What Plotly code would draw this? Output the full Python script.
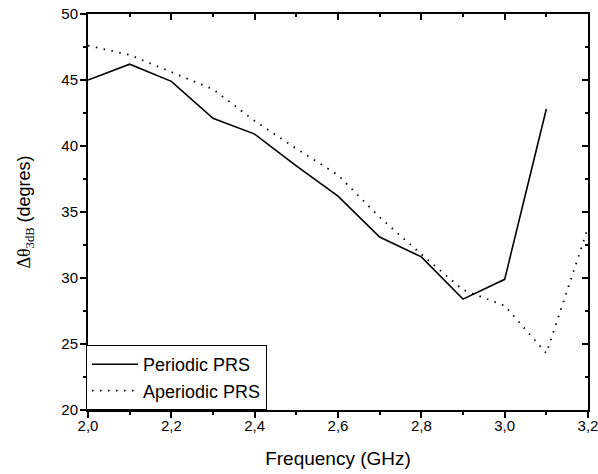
import plotly.graph_objects as go

freq = [2.0, 2.1, 2.2, 2.3, 2.4, 2.5, 2.6, 2.7, 2.8, 2.9, 3.0, 3.1]
periodic = [45.0, 46.2, 44.9, 42.1, 40.9, 38.5, 36.2, 33.1, 31.6, 28.4, 29.9, 42.8]
freq_ap = [2.0, 2.1, 2.2, 2.3, 2.4, 2.5, 2.6, 2.7, 2.8, 2.9, 3.0, 3.1, 3.2]
aperiodic = [47.6, 46.9, 45.6, 44.3, 41.9, 39.8, 37.8, 34.6, 31.8, 29.1, 27.9, 24.3, 33.8]

font = "Liberation Sans, Arial, sans-serif"
serif = "Liberation Serif, Times New Roman, serif"

fig = go.Figure()
fig.add_trace(go.Scatter(x=freq, y=periodic, mode="lines", name="Periodic PRS",
                         line=dict(color="black", width=1.6)))
fig.add_trace(go.Scatter(x=freq_ap, y=aperiodic, mode="lines", name="Aperiodic PRS",
                         line=dict(color="black", width=1.8, dash="1.5px,6.5px")))
# invisible trace to activate mirrored axes
fig.add_trace(go.Scatter(x=[2.0], y=[20], xaxis="x2", yaxis="y2", mode="markers",
                         marker=dict(opacity=0), showlegend=False, hoverinfo="skip"))

axis_common = dict(showgrid=False, zeroline=False, showline=True, linecolor="black",
                   linewidth=2, tickcolor="black", tickwidth=1.5, automargin=False)

ytitle = (f"<span style='font-family:{serif}'>Δθ<sub>3dB</sub></span> (degres)")

fig.update_layout(
    width=598, height=474,
    margin=dict(l=88, r=10, t=14, b=64),
    paper_bgcolor="white", plot_bgcolor="white",
    separators=",.",
    font=dict(family=font, color="black", size=15),
    xaxis=dict(range=[2.0, 3.2], dtick=0.2, tickformat=".1f", ticks="outside", ticklen=6,
               minor=dict(ticks="outside", ticklen=3, dtick=0.1, tickcolor="black", tickwidth=1.5),
               title=dict(text="Frequency (GHz)", font=dict(size=19), standoff=19),
               tickfont=dict(size=15), ticklabelstandoff=-5, ticklabeloverflow="allow",
               **axis_common),
    yaxis=dict(range=[20, 50], dtick=5, ticks="outside", ticklen=6,
               minor=dict(ticks="outside", ticklen=3, dtick=2.5, tickcolor="black", tickwidth=1.5),
               title=dict(text=ytitle, font=dict(size=18), standoff=26),
               tickfont=dict(size=15), ticklabelstandoff=-1, ticklabeloverflow="allow",
               **axis_common),
    xaxis2=dict(range=[2.0, 3.2], overlaying="x", side="top", dtick=0.2, ticks="inside", ticklen=6,
                showticklabels=False,
                minor=dict(ticks="inside", ticklen=3, dtick=0.1, tickcolor="black", tickwidth=1.5),
                anchor="y", **axis_common),
    yaxis2=dict(range=[20, 50], overlaying="y", side="right", dtick=5, ticks="inside", ticklen=6,
                showticklabels=False,
                minor=dict(ticks="inside", ticklen=3, dtick=2.5, tickcolor="black", tickwidth=1.5),
                anchor="x", **axis_common),
    legend=dict(x=-0.004, y=0, xanchor="left", yanchor="bottom", bordercolor="black",
                borderwidth=1, bgcolor="white", font=dict(size=18), tracegroupgap=0,
                itemwidth=46, entrywidth=150),
    showlegend=True,
)

fig.write_html("out.html")
